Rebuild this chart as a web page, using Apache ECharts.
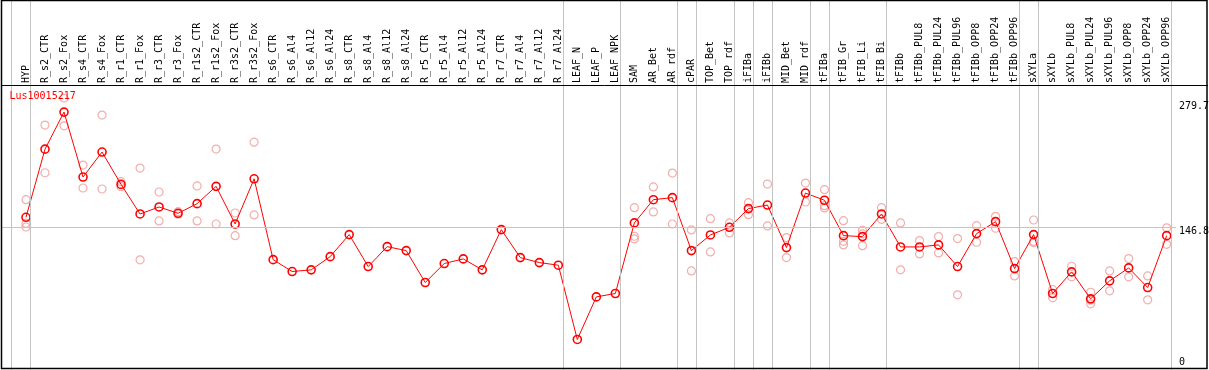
<!DOCTYPE html>
<html><head><meta charset="utf-8">
<script src="https://cdn.jsdelivr.net/npm/echarts@6/dist/echarts.min.js"></script>
<style>html,body{margin:0;padding:0;background:#fff}#c{width:1209px;height:370px}</style>
</head><body><div id="c"></div>
<script>
const geneTitle = 'Lus10015217';
const categories = ['HYP','R_s2_CTR','R_s2_Fox','R_s4_CTR','R_s4_Fox','R_r1_CTR','R_r1_Fox','R_r3_CTR','R_r3_Fox','R_r1s2_CTR','R_r1s2_Fox','R_r3s2_CTR','R_r3s2_Fox','R_s6_CTR','R_s6_Al4','R_s6_Al12','R_s6_Al24','R_s8_CTR','R_s8_Al4','R_s8_Al12','R_s8_Al24','R_r5_CTR','R_r5_Al4','R_r5_Al12','R_r5_Al24','R_r7_CTR','R_r7_Al4','R_r7_Al12','R_r7_Al24','LEAF_N','LEAF_P','LEAF_NPK','SAM','AR_Bet','AR_rdf','cPAR','TOP_Bet','TOP_rdf','iFIBa','iFIBb','MID_Bet','MID_rdf','tFIBa','tFIB_Gr','tFIB_Li','tFIB_Bi','tFIBb','tFIBb_PUL8','tFIBb_PUL24','tFIBb_PUL96','tFIBb_OPP8','tFIBb_OPP24','tFIBb_OPP96','sXYLa','sXYLb','sXYLb_PUL8','sXYLb_PUL24','sXYLb_PUL96','sXYLb_OPP8','sXYLb_OPP24','sXYLb_OPP96'];
const means = [157.1,227.2,265.3,198.5,224.2,190.9,160.5,167.7,161.2,171.1,188.9,150.2,196.7,113.5,101.3,103.0,116.6,139.3,106.4,126.9,122.8,90.0,109.5,114.3,103.0,144.4,115.6,110.5,107.8,31.4,75.2,78.7,151.3,175.2,177.3,122.8,138.9,146.8,166.0,169.7,125.9,182.0,174.6,138.2,137.2,160.5,126.6,126.6,128.7,106.4,140.3,152.6,104.3,139.3,78.7,100.9,73.2,91.7,105.0,84.8,138.2];
const rep1 = [175.2,251.9,279.7,210.8,262.2,193.7,207.7,183.1,162.9,189.3,227.3,161.5,234.4,null,null,null,null,null,null,null,null,null,null,null,null,null,null,null,null,null,null,null,167.0,188.3,202.6,144.1,155.7,151.3,172.1,191.3,136.2,192.3,185.5,153.6,143.7,167.0,151.3,133.1,137.2,135.2,148.5,158.1,111.5,154.3,82.8,106.7,80.0,101.9,114.6,96.8,146.2];
const rep2 = [150.9,202.9,251.2,187.2,186.2,188.6,113.3,153.3,160.2,153.3,150.2,138.2,159.5,null,null,null,null,null,null,null,null,null,null,null,null,null,null,null,null,null,null,null,137.6,162.6,150.2,101.9,121.5,141.0,159.8,148.2,115.6,172.8,169.0,132.4,140.0,155.0,103.0,119.4,120.4,77.3,131.4,145.8,96.8,132.4,74.2,95.8,71.8,81.4,95.8,72.2,129.3];
const rep3 = [147.1,null,null,null,null,null,null,null,null,null,null,null,null,null,null,null,null,null,null,null,null,null,null,null,null,null,null,null,null,null,null,null,134.8,null,null,null,null,null,null,null,null,null,166.7,128.7,127.9,null,null,null,null,null,null,null,null,131.1,null,null,68.1,null,null,null,null];
const separatorsAfter = [-1,0,28,31,34,35,37,38,39,41,42,45,52,53,60];
const yTickLabels = [279.7, 146.8, 0];
const refLine = 146.8;

const FONT = '"DejaVu Sans Mono", monospace';
const chart = echarts.init(document.getElementById('c'));
const repData = [];
[rep1, rep2, rep3].forEach(r => r.forEach((v, i) => { if (v != null) repData.push([i, v]); }));
const meanData = means.map((v, i) => [i, v]);
const idx = categories.map((c, i) => i);

chart.setOption({
  animation: false,
  title: { text: geneTitle, left: 9.5, top: 91, padding: 0,
    textStyle: { color: '#ff0000', fontFamily: FONT, fontSize: 10, fontWeight: 'normal' } },
  grid: { left: 2, right: 33, top: 0, height: 370.6 },
  xAxis: { type: 'value', min: -1.262, max: 60.49, position: 'top', offset: -85,
    axisLine: { show: false }, axisTick: { show: false }, splitLine: { show: false },
    axisLabel: { customValues: idx, rotate: 90, margin: 2, fontFamily: FONT, fontSize: 10, color: '#000',
      formatter: v => categories[Math.round(v)] } },
  yAxis: { type: 'value', min: 0, max: 380.6, show: false },
  series: [
    { type: 'scatter', data: repData, symbol: 'circle', symbolSize: 8, z: 2,
      itemStyle: { color: 'rgba(255,255,255,0)', borderColor: '#f09898', borderWidth: 1.2 },
      markLine: { silent: true, symbol: 'none', animation: false, label: { show: false },
        lineStyle: { color: '#c4c4c4', width: 1, type: 'solid' },
        data: separatorsAfter.map(s => ({ xAxis: s + 0.24 })).concat([{ yAxis: refLine }]) } },
    { type: 'line', data: meanData, symbol: 'circle', symbolSize: 8, z: 3,
      lineStyle: { color: '#ff0000', width: 1 },
      itemStyle: { color: 'rgba(255,255,255,0)', borderColor: '#ff0000', borderWidth: 1.6 } }
  ]
});

const gfx = [
  { type: 'rect', shape: { x: 1.5, y: 0.5, width: 1205.5, height: 368 }, style: { fill: 'none', stroke: '#000', lineWidth: 1.5 }, z: 10 },
  { type: 'line', shape: { x1: 1, y1: 85.5, x2: 1208, y2: 85.5 }, style: { stroke: '#000', lineWidth: 1 }, z: 10 }
];
yTickLabels.forEach(v => {
  const p = chart.convertToPixel({ gridIndex: 0 }, [0, v]);
  let y, va;
  if (v === 0) { y = p[1] - 3; va = 'bottom'; }
  else if (v === 279.7) { y = p[1] + 3; va = 'top'; }
  else { y = p[1] - 0.5; va = 'top'; }
  gfx.push({ type: 'text', x: 1179, y: y, z: 10,
    style: { text: String(v), fill: '#000', font: '10px "DejaVu Sans Mono", monospace', verticalAlign: va, align: 'left' } });
});
chart.setOption({ graphic: gfx });
</script>
</body></html>
